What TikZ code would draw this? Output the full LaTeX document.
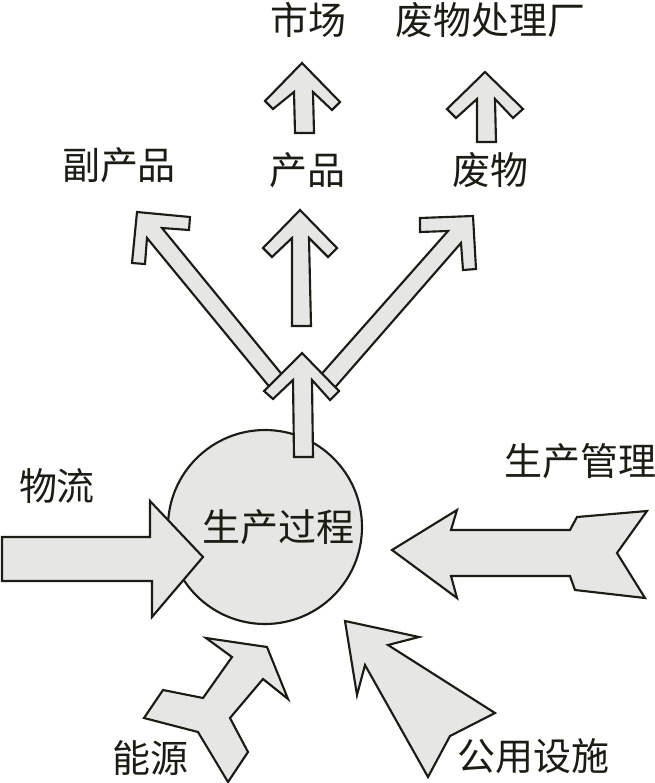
\documentclass[tikz,border=0pt]{standalone}
\usepackage{fontspec}
\setmainfont{Noto Sans CJK SC}
\definecolor{arrowfill}{HTML}{E6E6E4}
\definecolor{arrowline}{HTML}{1C1C14}

\begin{document}
\begin{tikzpicture}[x=0.75pt,y=-0.75pt,
  blk/.style={draw=arrowline,fill=arrowfill,line width=1.6pt,line join=miter},
  lbl/.style={font=\fontsize{28.5}{31}\selectfont,inner sep=0pt,text=arrowline}]
  \useasboundingbox (0,0) rectangle (655,783);

  % Process circle
  \draw[blk] (265,527) circle (97);

  % Inputs
  \draw[blk] (2,537) -- (150,537) -- (150,501) -- (203,557) -- (152,617) -- (152,581) -- (2,581) -- cycle;
  \draw[blk] (392,550) -- (457,510) -- (451,530) -- (570,530) -- (577,517) -- (647,511) -- (617,553)
    -- (645,598) -- (575,590) -- (570,576) -- (451,576) -- (457,598) -- cycle;
  \draw[blk] (267,647) -- (288,699) -- (263,679) -- (230,718) -- (248,752) -- (228,782) -- (198,732)
    -- (144,718) -- (163,690) -- (203,698) -- (232,657) -- (206,638) -- cycle;
  \draw[blk] (345,621) -- (419,637) -- (388,645) -- (495,713) -- (450,736) -- (428,777) -- (365,665)
    -- (357,695) -- cycle;

  % Outputs: side branches first, then the stem
  \draw[blk] (137,212) -- (190,217) -- (189,230) -- (162,228) -- (284,377) -- (272,390) -- (147,238)
    -- (145,264) -- (132,263) -- cycle;
  \draw[blk] (473,216) -- (476,269) -- (463,270) -- (461,243) -- (331,392) -- (318,378) -- (448,231)
    -- (420,232) -- (420,218) -- cycle;
  \draw[blk] (302,353) -- (339,391) -- (330,400) -- (312,380) -- (313,457) -- (294,457) -- (293,380)
    -- (273,399) -- (264,391) -- cycle;
  \draw[blk] (300,210) -- (337,248) -- (328,257) -- (309,238) -- (311,326) -- (292,326) -- (292,238)
    -- (272,257) -- (263,248) -- cycle;

  % Top row
  \draw[blk] (302,63) -- (340,102) -- (332,110) -- (313,92) -- (314,133) -- (295,133) -- (294,92)
    -- (273,109) -- (265,101) -- cycle;
  \draw[blk] (485,72) -- (523,109) -- (513,118) -- (495,99) -- (496,142) -- (477,142) -- (477,99)
    -- (456,118) -- (447,109) -- cycle;

  % Labels
  \node[lbl] (guocheng) at (278,527) {生产过程};
  \node[lbl] (wuliu) at (57,486) {物流};
  \node[lbl] (guanli) at (580,461) {生产管理};
  \node[lbl] (nengyuan) at (150,758) {能源};
  \node[lbl] (sheshi) at (533,756) {公用设施};
  \node[lbl] (fuchanpin) at (119,165) {副产品};
  \node[lbl] (chanpin) at (307,170) {产品};
  \node[lbl] (feiwu) at (490,170) {废物};
  \node[lbl] (shichang) at (308,20) {市场};
  \node[lbl] (chuli) at (490,20) {废物处理厂};
\end{tikzpicture}
\end{document}
